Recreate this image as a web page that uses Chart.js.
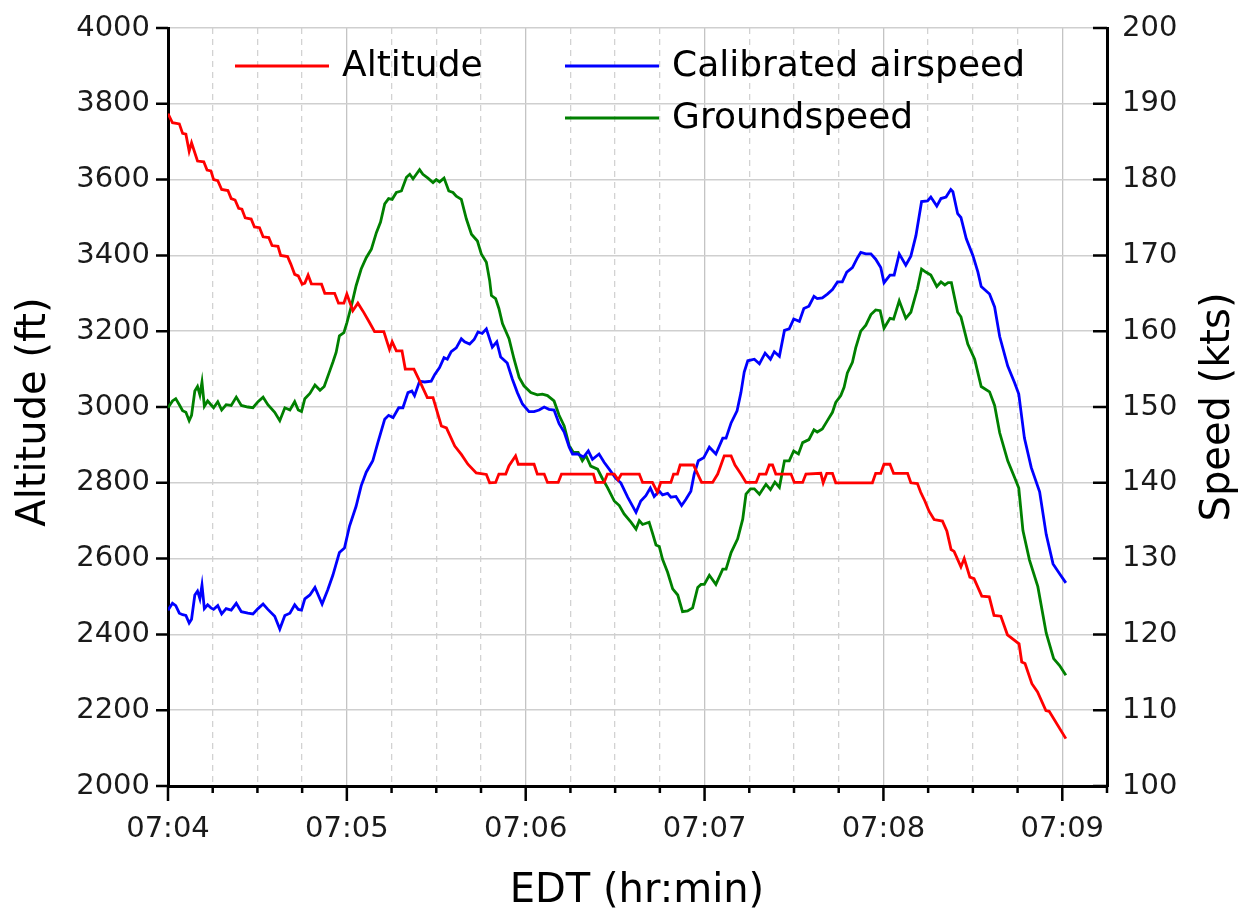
<!DOCTYPE html>
<html>
<head>
<meta charset="utf-8">
<script src="https://cdn.jsdelivr.net/npm/chart.js@4.4.1/dist/chart.umd.min.js"></script>
<style>
html,body{margin:0;padding:0;background:#fff;}
</style>
</head>
<body>
<canvas id="flightChart" width="1246" height="918"></canvas>
<script>
/* seconds after 07:04:00 */
const minuteLabels = ["07:04","07:05","07:06","07:07","07:08","07:09"];

const altTime = [0,1.5,3.8,4.9,6.0,7.1,7.9,9.9,12.0,13.1,14.4,15.3,16.7,18.0,20.1,21.2,22.5,23.7,24.8,25.9,27.9,29.0,30.7,31.9,33.8,34.9,36.9,37.8,40.1,41.2,42.5,43.7,45.0,45.9,47.0,48.1,51.5,52.6,55.9,57.2,59.0,60.0,62.0,63.7,65.7,67.6,69.3,72.4,74.3,75.2,76.6,78.5,79.6,82.5,84.4,87.0,88.9,91.7,93.4,96.2,98.4,100.6,103.4,106.8,107.9,109.9,111.0,113.3,114.4,116.6,117.5,122.8,123.9,126.2,127.3,130.9,132.0,142.7,143.5,146.3,147.4,149.7,151.0,152.1,158.1,159.2,162.5,164.2,165.3,168.7,169.6,170.9,171.8,176.3,177.7,179.0,182.7,184.4,185.5,186.6,188.9,190.2,192.2,193.9,197.3,198.4,200.6,201.7,202.8,203.9,209.0,210.1,212.9,214.0,219.0,219.8,221.0,222.9,224.0,236.3,237.4,239.1,240.2,242.2,243.4,248.1,249.2,251.4,252.5,253.9,255.3,257.0,259.8,261.3,262.7,263.7,266.0,267.1,269.0,270.4,273.0,275.5,277.1,279.4,281.6,285.5,286.4,287.5,289.8,291.7,294.5,295.6,301.2];
const altFt = [3774,3750,3747,3722,3720,3675,3697,3649,3647,3625,3623,3600,3597,3574,3571,3550,3546,3524,3522,3499,3496,3475,3473,3449,3447,3426,3424,3400,3397,3377,3350,3346,3324,3327,3348,3325,3324,3300,3300,3274,3274,3298,3254,3274,3249,3223,3199,3199,3152,3172,3148,3148,3100,3100,3069,3025,3025,2950,2945,2897,2875,2849,2826,2822,2800,2801,2823,2823,2845,2871,2849,2849,2823,2823,2801,2801,2823,2823,2801,2801,2823,2823,2808,2823,2823,2801,2801,2775,2801,2801,2823,2823,2847,2847,2823,2801,2801,2823,2847,2871,2871,2847,2823,2801,2801,2823,2823,2847,2847,2823,2823,2801,2801,2823,2825,2800,2825,2825,2800,2800,2825,2825,2849,2849,2825,2825,2800,2798,2775,2752,2725,2703,2699,2672,2624,2619,2578,2600,2551,2547,2501,2499,2450,2448,2399,2375,2327,2323,2270,2248,2199,2197,2125];

const casTime = [0,1.5,2.6,3.8,4.9,6.0,7.1,7.9,9.0,9.9,10.7,11.4,12.2,13.3,14.4,15.3,16.7,18.0,19.5,21.2,22.9,24.6,26.8,28.5,30.2,31.9,33.5,35.8,37.5,39.2,40.9,42.5,43.7,44.8,45.9,47.6,49.3,51.7,53.6,55.3,57.5,59.2,60.9,63.1,64.8,66.5,68.7,70.4,72.7,74.0,75.5,77.4,78.8,80.5,81.8,82.7,84.4,86.1,88.3,89.5,91.1,92.6,93.7,95.0,96.7,98.4,99.5,101.2,102.7,104.0,105.4,106.8,108.8,110.3,111.6,113.8,115.5,117.2,118.9,121.1,122.8,124.5,126.2,127.8,129.5,131.2,132.9,134.6,135.7,137.4,139.4,141.0,142.4,144.6,146.3,148.0,150.2,151.9,154.2,157.0,158.6,160.3,161.8,163.1,164.8,165.9,167.6,168.7,170.4,172.3,173.7,175.4,176.5,177.9,179.7,181.6,183.8,186.1,187.2,188.9,190.9,192.2,193.3,194.5,196.7,198.4,200.3,202.1,203.4,205.1,206.8,208.4,209.9,211.8,213.3,215.0,216.7,217.8,219.5,221.2,222.9,224.6,226.2,227.7,229.6,231.3,232.4,234.1,235.8,237.4,239.1,240.2,242.2,243.6,245.3,247.5,249.2,250.9,252.8,254.8,255.9,257.9,259.3,261.0,262.6,263.3,264.9,266.0,267.8,270.0,271.7,272.8,275.6,277.3,279.0,281.7,284.0,285.4,287.3,289.6,292.4,294.6,296.9,299.1,301.2];
const casKts = [123.2,124.1,123.8,122.8,122.6,122.5,121.5,122.0,125.2,125.7,124.7,126.5,123.4,123.9,123.5,123.3,123.8,122.7,123.4,123.2,124.1,123.0,122.8,122.7,123.4,124.0,123.3,122.4,120.7,122.5,122.8,123.9,123.3,123.2,124.7,125.2,126.2,124.0,125.9,127.8,130.8,131.4,134.3,136.9,139.6,141.4,142.9,145.3,148.4,148.9,148.6,149.9,149.9,151.9,152.1,151.5,153.4,153.3,153.4,154.3,155.2,156.5,156.3,157.3,157.8,159.0,158.6,158.3,158.9,159.9,159.7,160.3,157.9,158.6,156.6,155.8,153.7,151.9,150.4,149.4,149.4,149.6,150.0,149.7,149.6,147.8,146.7,144.7,143.8,143.8,143.4,144.2,143.1,143.8,142.7,141.8,140.6,140.0,138.1,136.1,137.6,138.3,139.3,138.2,138.9,138.4,138.6,138.1,138.2,137.0,137.8,138.9,141.1,142.9,143.3,144.7,143.8,145.9,145.9,147.9,149.5,151.9,154.6,156.1,156.3,155.7,157.1,156.3,157.3,156.7,160.1,160.3,161.6,161.3,163.0,163.3,164.6,164.3,164.4,164.9,165.5,166.5,166.5,167.8,168.4,169.7,170.4,170.2,170.2,169.5,168.4,166.4,167.4,167.4,170.2,168.7,169.9,172.6,177.1,177.2,177.7,176.5,177.5,177.7,178.7,178.4,175.5,175.0,172.2,170.0,167.8,165.9,164.9,163.2,159.3,155.4,153.2,151.7,145.9,142.0,138.8,133.2,129.3,128.0,126.8];

const gsTime = [0,1.5,2.6,3.8,4.9,6.0,7.1,7.9,9.0,9.9,10.7,11.4,12.2,13.3,14.4,15.3,16.7,18.0,19.5,21.2,22.9,24.6,26.8,28.5,30.2,31.9,33.5,35.8,37.5,39.2,40.9,42.5,43.7,44.8,45.9,47.6,49.3,51.0,52.4,54.3,55.3,56.4,57.5,59.0,60.0,61.5,63.1,64.8,66.5,68.2,69.9,71.3,72.7,74.0,75.2,76.6,78.3,80.0,81.1,82.2,83.3,84.4,85.5,87.2,88.9,90.0,91.1,92.6,94.2,95.6,96.7,98.4,100.1,101.8,103.8,105.1,106.8,107.9,108.5,109.9,111.0,112.2,114.4,116.1,117.8,119.4,121.7,123.9,125.6,127.3,129.5,131.2,132.9,134.6,136.0,137.6,139.0,140.2,141.8,144.1,145.8,147.4,149.7,151.4,153.0,155.3,157.0,158.1,159.2,161.4,162.5,163.7,164.8,165.9,167.6,169.3,171.0,172.6,174.3,176.0,177.7,178.8,179.9,181.6,183.8,186.1,187.2,188.9,191.1,192.8,193.9,195.4,196.7,198.4,200.6,202.1,203.6,205.1,206.8,208.4,209.9,211.5,212.9,215.0,216.7,217.8,219.5,221.2,222.9,224.0,225.7,226.8,227.9,229.6,230.7,232.4,234.1,235.8,237.4,238.9,240.2,242.2,243.4,245.3,247.5,249.2,251.4,252.8,254.2,255.9,257.9,259.3,260.6,261.7,262.8,264.9,266.0,268.3,270.6,272.8,275.6,277.3,279.0,281.7,284.0,285.4,286.8,289.0,291.8,294.6,297.1,299.1,301.2];
const gsKts = [149.9,150.8,151.1,150.3,149.5,149.3,148.2,148.9,152.1,152.7,151.6,153.3,150.1,150.8,150.3,149.9,150.7,149.6,150.3,150.2,151.3,150.2,150.0,149.9,150.7,151.3,150.3,149.3,148.2,149.9,149.6,150.7,149.6,149.4,151.1,151.8,152.9,152.2,152.7,154.8,155.9,157.2,159.4,159.8,161.1,163.3,166.0,168.2,169.7,170.8,173.0,174.4,176.8,177.5,177.4,178.3,178.5,180.3,180.7,180.1,180.7,181.3,180.7,180.2,179.6,180.0,179.7,180.2,178.5,178.3,177.8,177.4,174.8,172.8,171.9,170.2,169.1,166.7,164.7,164.3,163.0,161.0,159.0,156.3,153.9,152.8,151.9,151.6,151.7,151.5,150.8,148.9,147.5,144.9,144.0,144.0,142.9,143.6,142.2,141.8,140.5,139.4,137.6,137.0,135.9,134.8,133.9,135.0,134.5,134.8,133.4,131.8,131.6,129.9,128.2,126.0,125.2,123.0,123.1,123.5,126.2,126.6,126.6,127.8,126.6,128.6,128.6,130.8,132.6,135.2,138.5,139.2,139.2,138.5,139.8,139.1,140.1,139.4,142.9,142.9,144.2,143.8,145.3,145.7,147.0,146.7,147.1,148.2,149.3,150.6,151.5,152.6,154.5,155.9,157.8,160.0,160.8,162.2,162.8,162.7,160.4,161.7,161.6,164.0,161.7,162.5,165.6,168.2,167.8,167.4,165.9,166.5,166.1,166.4,166.4,162.5,161.9,158.3,156.3,152.7,152.0,150.2,146.6,142.9,140.7,139.3,133.7,129.8,126.3,120.2,116.8,115.9,114.6];

function pts(ts, vs){
    return ts.map((t, i) => ({x: t, y: vs[i]}));
}

const FONT = "'DejaVu Sans', sans-serif";

// keep the plot box where the reference has it
function fixBox(size){
    return s => {
        if(s.isHorizontal()) s.height = size; else s.width = size;
        s.paddingTop = 0;
        s.paddingBottom = 0;
        s.paddingLeft = 0;
        s.paddingRight = 0;
    };
}

const decor = {
    id: "decor",
    afterDraw(chart){
        const {ctx, chartArea: a, scales} = chart;
        ctx.save();

        // tick marks (x: long at minutes, short at 15 s; right axis points inward)
        ctx.strokeStyle = "#000";
        ctx.lineWidth = 2.5;
        ctx.beginPath();
        scales.x.ticks.forEach(t => {
            const px = scales.x.getPixelForValue(t.value);
            const len = t.value % 60 === 0 ? 15 : 7;
            ctx.moveTo(px, a.bottom);
            ctx.lineTo(px, a.bottom + len);
        });
        scales.y.ticks.forEach(t => {
            const py = scales.y.getPixelForValue(t.value);
            ctx.moveTo(a.left - 12, py);
            ctx.lineTo(a.left, py);
        });
        scales.y2.ticks.forEach(t => {
            const py = scales.y2.getPixelForValue(t.value);
            ctx.moveTo(a.right - 14, py);
            ctx.lineTo(a.right, py);
        });
        ctx.stroke();

        // axis titles
        ctx.fillStyle = "#000";
        ctx.font = "40px " + FONT;
        ctx.textAlign = "center";
        ctx.textBaseline = "middle";
        ctx.fillText("EDT (hr:min)", 637, 892);

        ctx.save();
        ctx.translate(35, 412);
        ctx.rotate(-Math.PI / 2);
        ctx.fillText("Altitude (ft)", 0, 0);
        ctx.restore();

        ctx.save();
        ctx.translate(1219, 407);
        ctx.rotate(-Math.PI / 2);
        ctx.fillText("Speed (kts)", 0, 0);
        ctx.restore();

        // legend
        const items = [
            {ds: 0, x: 235, y: 66},
            {ds: 1, x: 565, y: 66},
            {ds: 2, x: 565, y: 118}
        ];
        ctx.font = "36px " + FONT;
        ctx.textAlign = "left";
        items.forEach(it => {
            const ds = chart.data.datasets[it.ds];
            ctx.strokeStyle = ds.borderColor;
            ctx.lineWidth = 2.8;
            ctx.beginPath();
            ctx.moveTo(it.x, it.y);
            ctx.lineTo(it.x + 94, it.y);
            ctx.stroke();
            ctx.fillStyle = "#000";
            ctx.fillText(ds.label, it.x + 107, it.y + 1);
        });

        ctx.restore();
    }
};

new Chart(document.getElementById("flightChart"), {
    type: "line",
    data: {
        datasets: [
            {
                label: "Altitude",
                data: pts(altTime, altFt),
                yAxisID: "y",
                borderColor: "#ff0000",
                borderWidth: 2.8,
                pointRadius: 0,
                tension: 0
            },
            {
                label: "Calibrated airspeed",
                data: pts(casTime, casKts),
                yAxisID: "y2",
                borderColor: "#0000ff",
                borderWidth: 2.8,
                pointRadius: 0,
                tension: 0
            },
            {
                label: "Groundspeed",
                data: pts(gsTime, gsKts),
                yAxisID: "y2",
                borderColor: "#008000",
                borderWidth: 2.8,
                pointRadius: 0,
                tension: 0
            }
        ]
    },
    options: {
        responsive: false,
        animation: false,
        devicePixelRatio: 1,
        layout: {padding: {top: 28, left: 0, right: 0, bottom: 0}},
        plugins: {
            legend: {display: false},
            tooltip: {enabled: false}
        },
        scales: {
            x: {
                type: "linear",
                min: 0,
                max: 315,
                afterFit: fixBox(132),
                ticks: {
                    stepSize: 15,
                    autoSkip: false,
                    maxRotation: 0,
                    padding: 26,
                    color: "#1a1a1a",
                    font: {family: FONT, size: 29},
                    callback: v => v % 60 === 0 ? minuteLabels[v / 60] : ""
                },
                grid: {
                    drawTicks: false,
                    color: ctx => (ctx.tick && ctx.tick.value % 60 === 0) ? "#c4c4c4" : "#d2d2d2",
                    lineWidth: 1.3
                },
                border: {
                    display: true,
                    color: "#000",
                    width: 3,
                    dash: ctx => (ctx.tick && ctx.tick.value % 60 !== 0) ? [6, 5] : []
                }
            },
            y: {
                position: "left",
                min: 2000,
                max: 4000,
                afterFit: fixBox(168),
                ticks: {
                    stepSize: 200,
                    padding: 18,
                    color: "#1a1a1a",
                    font: {family: FONT, size: 29},
                    callback: v => String(v)
                },
                grid: {
                    drawTicks: false,
                    color: "#cfcfcf",
                    lineWidth: 1.6
                },
                border: {display: true, color: "#000", width: 3}
            },
            y2: {
                position: "right",
                min: 100,
                max: 200,
                afterFit: fixBox(139),
                ticks: {
                    stepSize: 10,
                    padding: 15,
                    color: "#1a1a1a",
                    font: {family: FONT, size: 29},
                    callback: v => String(v)
                },
                grid: {
                    drawTicks: false,
                    drawOnChartArea: false
                },
                border: {display: true, color: "#000", width: 3}
            }
        }
    },
    plugins: [decor]
});
</script>
</body>
</html>
